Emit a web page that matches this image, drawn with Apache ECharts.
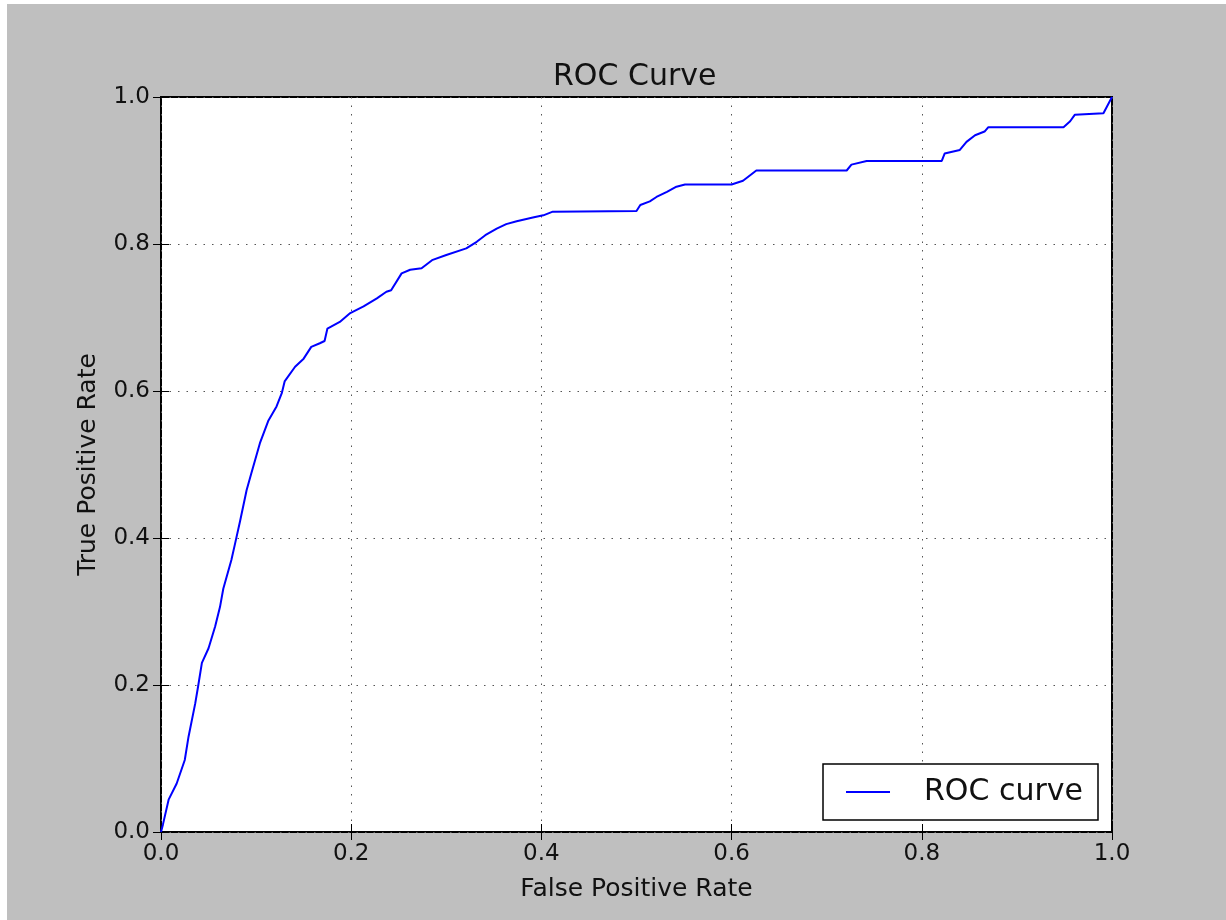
<!DOCTYPE html>
<html>
<head>
<meta charset="utf-8">
<script src="https://cdn.jsdelivr.net/npm/echarts@6/dist/echarts.min.js"></script>
<style>
html,body{margin:0;padding:0;background:#ffffff;width:1226px;height:920px;overflow:hidden;}
#c{position:absolute;left:7px;top:4px;width:1219px;height:916px;}
</style>
</head>
<body>
<div id="c"></div>
<script>
var fpr = [0,0.002,0.008,0.0165,0.025,0.029,0.036,0.039,0.043,0.05,0.057,0.062,0.0655,0.074,0.078,0.083,0.09,0.095,0.104,0.113,0.1215,0.127,0.130,0.141,0.150,0.158,0.167,0.172,0.175,0.188,0.199,0.213,0.227,0.237,0.242,0.253,0.262,0.274,0.285,0.300,0.321,0.332,0.341,0.353,0.363,0.374,0.391,0.402,0.412,0.500,0.504,0.514,0.521,0.532,0.542,0.551,0.600,0.612,0.626,0.721,0.726,0.742,0.821,0.824,0.840,0.847,0.856,0.866,0.870,0.949,0.956,0.961,0.991,1.0];
var tpr = [0,0.01,0.044,0.066,0.098,0.13,0.175,0.198,0.23,0.25,0.28,0.306,0.331,0.37,0.393,0.422,0.465,0.488,0.529,0.56,0.579,0.597,0.613,0.633,0.644,0.660,0.665,0.668,0.685,0.694,0.706,0.715,0.726,0.735,0.737,0.760,0.765,0.767,0.778,0.785,0.794,0.803,0.812,0.821,0.827,0.831,0.836,0.839,0.844,0.845,0.853,0.858,0.864,0.871,0.878,0.881,0.881,0.886,0.900,0.900,0.908,0.913,0.913,0.923,0.928,0.939,0.948,0.953,0.959,0.959,0.967,0.976,0.978,1.0];
var seriesName = 'ROC curve';
var titleText = 'ROC Curve';
var xLabel = 'False Positive Rate';
var yLabel = 'True Positive Rate';

var pts = fpr.map(function(x,i){return [x,tpr[i]];});
var FONT = 'DejaVu Sans';
var fmt = function(v){return Number(v).toFixed(1);};
function axisBase(extra){
  var a = {
    type:'value', min:0, max:1, interval:0.2,
    axisLine:{show:false},
    axisTick:{show:true, inside:true, length:8, lineStyle:{color:'#000', width:1}},
    splitLine:{show:false},
    axisLabel:{show:false}
  };
  for (var k in extra) a[k]=extra[k];
  return a;
}
var chart = echarts.init(document.getElementById('c'));
chart.setOption({
  backgroundColor:'#bfbfbf',
  animation:false,
  title:{text:titleText, left:541, top:53, textStyle:{fontFamily:FONT, fontSize:30, fontWeight:'normal', color:'#111'}},
  grid:{left:154, top:93, width:951, height:735, show:true, backgroundColor:'#ffffff', borderColor:'#000', borderWidth:2},
  legend:{
    data:[{name:seriesName, icon:'rect'}], right:128, top:760, orient:'horizontal',
    backgroundColor:'#ffffff', borderColor:'#000', borderWidth:1.5, borderRadius:0,
    padding:[13,15,13,23], itemWidth:44, itemHeight:2,
    itemStyle:{color:'#0000ff'},
    textStyle:{fontFamily:FONT, fontSize:30, color:'#111', padding:[0,0,0,29]}
  },
  xAxis:[
    axisBase({position:'bottom', name:xLabel, nameLocation:'middle', nameGap:45,
      nameTextStyle:{fontFamily:FONT, fontSize:25, color:'#111'},
      axisLabel:{show:true, margin:11, formatter:fmt, fontFamily:FONT, fontSize:23, color:'#111'},
      splitLine:{show:true, lineStyle:{color:'#555', width:1, type:[1.5,7]}}}),
    axisBase({position:'top'})
  ],
  yAxis:[
    axisBase({position:'left', name:yLabel, nameLocation:'middle', nameGap:60, nameRotate:90,
      nameTextStyle:{fontFamily:FONT, fontSize:25, color:'#111'},
      axisLabel:{show:true, margin:11, formatter:fmt, fontFamily:FONT, fontSize:23, color:'#111'},
      splitLine:{show:true, lineStyle:{color:'#555', width:1, type:[1.5,7]}}}),
    axisBase({position:'right'})
  ],
  series:[{
    name:seriesName, type:'line', data:pts, symbol:'none', showSymbol:false,
    xAxisIndex:0, yAxisIndex:0,
    lineStyle:{color:'#0000ff', width:2}, itemStyle:{color:'#0000ff'}
  }]
});
</script>
</body>
</html>
